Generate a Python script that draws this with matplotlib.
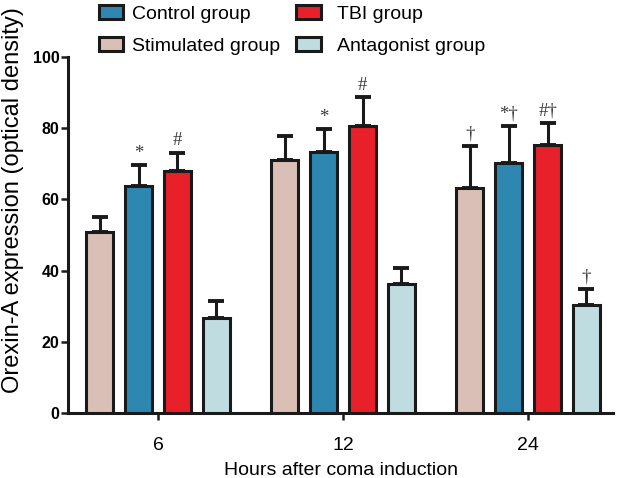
import numpy as np
import matplotlib.pyplot as plt
from matplotlib.patches import Patch

plt.rcParams['font.family'] = ['Liberation Sans', 'DejaVu Sans']

# Datos
hours = ["6", "12", "24"]
groups = ["Stimulated group", "Control group", "TBI group", "Antagonist group"]
stimulated = [50.7, 71.0, 63.1]
control = [63.7, 73.2, 70.1]
tbi = [67.9, 80.6, 75.2]
antagonist = [26.8, 36.3, 30.4]
stimulated_err = [4.2, 6.7, 11.9]
control_err = [5.9, 6.5, 10.5]
tbi_err = [5.1, 8.1, 6.2]
antagonist_err = [4.7, 4.3, 4.5]
marks = [
    ["", "*", "#", ""],
    ["", "*", "#", ""],
    ["\u2020", "*\u2020", "#\u2020", "\u2020"],
]

colors = ["#d9bfb5", "#2d87b1", "#e8202a", "#bfdce0"]
values = [stimulated, control, tbi, antagonist]
errors = [stimulated_err, control_err, tbi_err, antagonist_err]

fig = plt.figure(figsize=(6.17, 4.78), dpi=100)
ax = fig.add_axes([0.110, 0.136, 0.884, 0.745])

x = np.arange(len(hours))
step = 0.21
width = 0.145
for i, (vals, errs, c) in enumerate(zip(values, errors, colors)):
    pos = x + (i - 1.5) * step
    ax.bar(pos, vals, width, color=c, edgecolor="#1a1a1a", linewidth=2.2, zorder=3)
    ax.errorbar(pos, vals, yerr=[np.zeros(len(errs)), errs], fmt="none",
                ecolor="#1a1a1a", elinewidth=2.2, capsize=5.5, capthick=2.8, zorder=2)
    for j in range(len(hours)):
        if marks[j][i]:
            ax.text(pos[j], vals[j] + errs[j] + 1.0, marks[j][i], ha="center", va="bottom",
                    fontsize=13.5, family=["Liberation Serif", "DejaVu Serif"], color="#3a3a3a")

ax.set_xlim(-0.487, 2.46)
ax.set_ylim(0, 100)
ax.set_xticks(x)
ax.set_xticklabels(hours, fontsize=14)
ax.set_yticks([0, 20, 40, 60, 80, 100])
ax.set_yticklabels(["0", "20", "40", "60", "80", "100"], fontsize=11.5, fontweight="bold")
ax.tick_params(axis="both", direction="out", width=1.8, color="#1a1a1a")
ax.tick_params(axis="y", length=5, pad=1)
ax.tick_params(axis="x", length=5, pad=12)
for s in ["top", "right"]:
    ax.spines[s].set_visible(False)
for s in ["left", "bottom"]:
    ax.spines[s].set_linewidth(2.2)
    ax.spines[s].set_color("#1a1a1a")

ax.set_xlabel("Hours after coma induction", fontsize=14, labelpad=6)
ax.set_ylabel("Orexin-A expression (optical density)", fontsize=17)
ax.yaxis.set_label_coords(-0.081, 0.598)

# Leyenda en dos columnas, cada una por separado
h = [Patch(facecolor=colors[k], edgecolor="#1a1a1a", linewidth=2.2) for k in range(4)]
fig.legend([h[1], h[0]], [groups[1], groups[0]], loc="upper left",
           bbox_to_anchor=(0.138, 1.018), frameon=False, fontsize=14, handlelength=1.25,
           handleheight=0.75, handletextpad=0.45, labelspacing=0.72, borderpad=0.2)
fig.legend([h[2], h[3]], [groups[2], groups[3]], loc="upper left",
           bbox_to_anchor=(0.458, 1.018), frameon=False, fontsize=14, handlelength=1.25,
           handleheight=0.75, handletextpad=0.85, labelspacing=0.72, borderpad=0.2)

fig.savefig("out.png", dpi=100)
